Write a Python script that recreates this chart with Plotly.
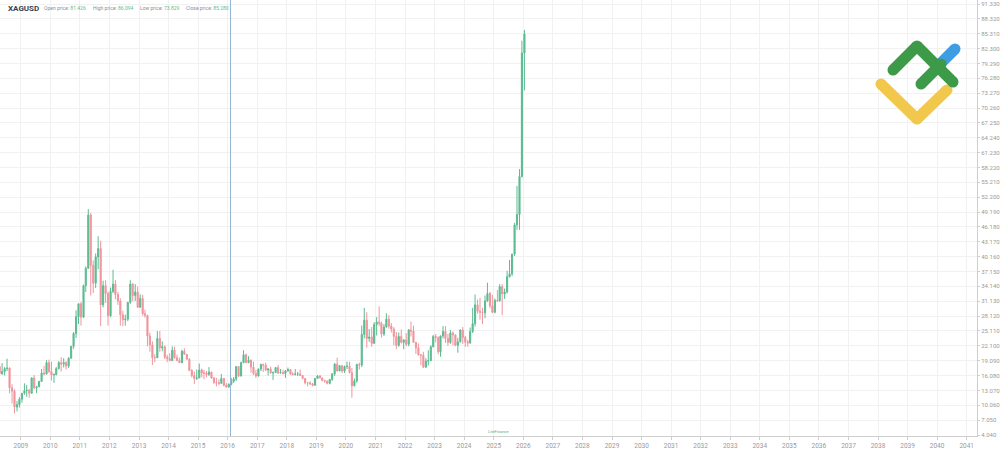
import plotly.graph_objects as go
import pandas as pd

# ---------------- data (monthly XAGUSD candles, Apr 2008 - Jan 2026) ----------------
start_month = "2008-04-01"

opens = [
    17.9, 16.5, 16.9, 17.5, 17.6, 13.6, 12.9, 9.7, 10.2,
    11.3, 12.5, 13.0, 13.1, 12.5, 15.6, 13.6, 13.8, 14.9, 16.6, 16.4, 18.7,
    16.9, 16.2, 16.3, 17.5, 18.7, 18.4, 18.7, 18.0, 19.6, 22.0, 24.6, 28.0,
    30.6, 27.9, 34.3, 37.8, 48.6, 38.4, 34.8, 40.1, 41.8, 30.4, 34.3, 32.7,
    28.2, 33.1, 34.6, 32.5, 31.2, 28.4, 27.4, 27.5, 30.9, 34.6, 32.3, 33.0,
    29.9, 31.7, 28.6, 28.3, 24.1, 22.3, 19.7, 19.7, 23.6, 21.7, 21.9, 19.8,
    19.5, 19.1, 21.2, 19.7, 19.1, 18.7, 21.0, 20.4, 19.4, 17.1, 16.1, 15.5,
    15.6, 17.2, 16.6, 16.6, 16.3, 16.8, 15.6, 14.7, 14.6, 14.5, 15.5, 14.1,
    13.8, 14.3, 14.9, 15.4, 17.9, 16.0, 18.7, 20.3, 18.7, 19.2, 17.8, 16.5,
    16.0, 17.4, 18.3, 18.2, 17.2, 17.4, 16.6, 16.7, 17.7, 16.6, 16.7, 16.5,
    17.0, 17.3, 16.4, 16.3, 16.4, 16.4, 16.1, 15.5, 14.6, 14.6, 14.4, 14.1,
    15.5, 16.0, 15.6, 15.1, 15.0, 14.5, 15.3, 16.4, 18.4, 17.0, 18.1, 17.0,
    17.9, 18.0, 16.7, 14.0, 15.0, 18.3, 18.2, 24.4, 27.3, 23.6, 23.9, 22.6,
    26.4, 26.9, 26.7, 24.5, 25.9, 27.5, 26.1, 25.5, 24.0, 22.2, 24.0, 22.8,
    23.3, 22.4, 25.3, 25.1, 22.8, 21.7, 20.3, 20.2, 17.8, 19.0, 19.1, 21.9,
    24.0, 23.8, 20.9, 24.1, 25.0, 23.6, 22.8, 24.7, 24.3, 22.2, 22.9, 25.3,
    23.8, 22.9, 22.7, 25.0, 26.6, 30.4, 29.1, 28.9, 28.8, 31.2, 32.7, 30.2,
    28.9, 31.3, 31.2, 34.1, 32.6, 33.0, 36.1, 36.7, 40.7, 46.6, 48.7, 56.4,
    81.426,
]
highs = [
    18.0, 18.6, 17.8, 19.5, 17.7, 14.3, 13.3, 10.9, 11.7,
    12.5, 14.5, 14.2, 13.4, 15.7, 16.2, 14.0, 15.0, 17.4, 18.0, 19.2, 19.3,
    18.9, 16.5, 17.8, 19.0, 19.8, 19.6, 19.0, 19.8, 22.1, 24.9, 29.3, 30.7,
    31.0, 34.5, 38.2, 49.8, 49.0, 39.4, 40.8, 44.3, 43.4, 35.3, 35.4, 33.1,
    33.9, 37.5, 35.4, 33.0, 31.7, 29.2, 28.4, 31.0, 35.4, 34.8, 34.6, 34.1,
    32.5, 32.4, 29.4, 28.3, 24.8, 23.0, 20.4, 25.1, 25.1, 23.0, 22.2, 20.3,
    20.6, 22.0, 21.9, 20.3, 19.7, 21.3, 21.6, 20.4, 19.6, 17.4, 16.9, 17.3,
    18.5, 17.5, 17.2, 17.0, 17.8, 16.8, 15.8, 15.6, 15.3, 16.4, 15.6, 14.6,
    14.5, 15.6, 15.8, 18.0, 17.9, 18.9, 21.2, 20.5, 20.0, 19.3, 18.9, 17.2,
    17.5, 18.5, 18.5, 18.7, 17.6, 17.9, 16.9, 17.8, 18.2, 17.4, 17.3, 17.2,
    17.7, 17.4, 16.8, 17.4, 16.8, 17.3, 16.1, 15.6, 14.8, 14.9, 14.6, 15.6,
    16.2, 16.2, 15.6, 15.2, 15.0, 15.4, 16.6, 18.6, 19.7, 18.1, 18.1, 18.1,
    18.9, 18.9, 17.6, 15.5, 18.5, 18.7, 26.2, 29.8, 28.9, 25.5, 25.9, 26.9,
    27.9, 30.1, 27.0, 26.5, 28.7, 28.3, 26.7, 25.9, 24.9, 24.8, 25.4, 23.4,
    24.7, 25.5, 27.0, 26.2, 22.9, 22.6, 20.4, 20.9, 19.6, 21.2, 22.2, 24.3,
    24.5, 24.0, 24.2, 26.1, 26.1, 24.5, 25.3, 25.0, 24.4, 23.7, 25.5, 25.9,
    24.1, 23.3, 25.8, 29.8, 32.5, 31.5, 31.8, 29.8, 32.3, 34.9, 33.0, 32.4,
    31.7, 33.4, 34.6, 34.6, 33.7, 37.3, 39.5, 40.7, 47.0, 54.5, 57.9, 83.9,
    86.094,
]
lows = [
    16.4, 16.2, 16.1, 17.0, 12.5, 10.4, 8.4, 8.8, 9.6,
    10.6, 12.2, 11.8, 11.6, 12.4, 13.3, 12.5, 13.8, 14.8, 16.1, 16.3, 16.6,
    15.1, 14.6, 16.1, 17.3, 16.9, 17.7, 17.3, 17.6, 19.5, 21.5, 23.7, 26.5,
    26.2, 27.8, 33.0, 37.7, 32.3, 32.8, 33.8, 37.6, 26.1, 29.9, 30.8, 26.2,
    27.9, 32.8, 31.5, 30.4, 26.2, 26.1, 26.2, 27.1, 30.6, 31.1, 31.2, 29.8,
    29.9, 28.2, 27.8, 22.0, 20.9, 18.2, 18.8, 19.6, 20.9, 21.0, 19.4, 18.8,
    19.0, 19.1, 19.5, 19.0, 18.7, 18.6, 20.3, 19.3, 17.0, 15.7, 14.4, 15.2,
    15.6, 15.7, 15.3, 15.7, 16.0, 15.4, 14.4, 13.9, 14.1, 14.4, 13.9, 13.6,
    13.6, 14.1, 14.6, 15.0, 15.8, 15.9, 18.6, 18.6, 18.6, 16.7, 16.2, 15.6,
    15.9, 17.0, 16.8, 17.0, 16.1, 16.5, 15.2, 16.6, 16.4, 16.5, 16.3, 15.6,
    16.9, 16.2, 16.1, 16.1, 16.0, 16.0, 15.3, 14.3, 13.9, 14.2, 13.9, 14.1,
    15.4, 15.5, 14.9, 14.6, 14.3, 14.3, 15.0, 16.0, 16.9, 17.0, 16.6, 16.6,
    17.4, 16.5, 11.6, 13.9, 14.6, 17.3, 17.8, 23.6, 21.7, 22.9, 21.9, 22.5,
    24.2, 26.1, 23.8, 24.1, 25.8, 25.6, 24.8, 22.2, 21.4, 21.9, 22.6, 21.4,
    22.0, 22.0, 24.0, 22.8, 20.5, 20.1, 18.2, 17.6, 17.6, 18.1, 19.0, 21.8,
    22.8, 20.4, 19.9, 23.6, 22.7, 22.1, 22.5, 22.2, 22.0, 20.7, 22.8, 22.5,
    21.9, 21.9, 22.5, 24.7, 26.0, 28.6, 27.4, 26.5, 27.7, 31.0, 29.7, 28.7,
    28.7, 31.0, 31.1, 28.3, 31.6, 32.7, 35.9, 36.2, 40.3, 45.6, 45.6, 56.2,
    73.829,
]
closes = [
    16.5, 16.9, 17.5, 17.6, 13.6, 12.9, 9.7, 10.2, 11.3,
    12.5, 13.0, 13.1, 12.5, 15.6, 13.6, 13.8, 14.9, 16.6, 16.4, 18.7, 16.9,
    16.2, 16.3, 17.5, 18.7, 18.4, 18.7, 18.0, 19.6, 22.0, 24.6, 28.0, 30.6,
    27.9, 34.3, 37.8, 48.6, 38.4, 34.8, 40.1, 41.8, 30.4, 34.3, 32.7, 28.2,
    33.1, 34.6, 32.5, 31.2, 28.4, 27.4, 27.5, 30.9, 34.6, 32.3, 33.0, 29.9,
    31.7, 28.6, 28.3, 24.1, 22.3, 19.7, 19.7, 23.6, 21.7, 21.9, 19.8, 19.5,
    19.1, 21.2, 19.7, 19.1, 18.7, 21.0, 20.4, 19.4, 17.1, 16.1, 15.5, 15.6,
    17.2, 16.6, 16.6, 16.3, 16.8, 15.6, 14.7, 14.6, 14.5, 15.5, 14.1, 13.8,
    14.3, 14.9, 15.4, 17.9, 16.0, 18.7, 20.3, 18.7, 19.2, 17.8, 16.5, 16.0,
    17.4, 18.3, 18.2, 17.2, 17.4, 16.6, 16.7, 17.7, 16.6, 16.7, 16.5, 17.0,
    17.3, 16.4, 16.3, 16.4, 16.4, 16.1, 15.5, 14.6, 14.6, 14.4, 14.1, 15.5,
    16.0, 15.6, 15.1, 15.0, 14.5, 15.3, 16.4, 18.4, 17.0, 18.1, 17.0, 17.9,
    18.0, 16.7, 14.0, 15.0, 18.3, 18.2, 24.4, 27.3, 23.6, 23.9, 22.6, 26.4,
    26.9, 26.7, 24.5, 25.9, 27.5, 26.1, 25.5, 24.0, 22.2, 24.0, 22.8, 23.3,
    22.4, 25.3, 25.1, 22.8, 21.7, 20.3, 20.2, 17.8, 19.0, 19.1, 21.9, 24.0,
    23.8, 20.9, 24.1, 25.0, 23.6, 22.8, 24.7, 24.3, 22.2, 22.9, 25.3, 23.8,
    22.9, 22.7, 25.0, 26.6, 30.4, 29.1, 28.9, 28.8, 31.2, 32.7, 30.2, 28.9,
    31.3, 31.2, 34.1, 32.6, 33.0, 36.1, 36.7, 40.7, 46.6, 48.7, 56.4, 81.4,
    85.28,
]

year_labels = [str(y) for y in range(2009, 2042)]
year_ticks = [f"{y}-01-01" for y in range(2009, 2042)]
price_labels = ["4.040", "7.050", "10.060", "13.070", "16.080", "19.090", "22.100",
                "25.110", "28.120", "31.130", "34.140", "37.150", "40.160", "43.170",
                "46.180", "49.190", "52.200", "55.210", "58.220", "61.230", "64.240",
                "67.250", "70.260", "73.270", "76.280", "79.290", "82.300", "85.310",
                "88.320", "91.330"]
price_ticks = [float(s) for s in price_labels]

symbol = "XAGUSD"
last_open, last_high, last_low, last_close = "81.426", "86.094", "73.829", "85.280"
cursor_date = "2016-02-05"

# ---------------- figure ----------------
dates = pd.date_range(start_month, periods=len(closes), freq="MS") + pd.Timedelta(days=14)

GREEN = "#5cbb91"
RED = "#f0959d"
VALUE_GREEN = "#5cbb91"

fig = go.Figure(go.Candlestick(
    x=dates, open=opens, high=highs, low=lows, close=closes,
    increasing=dict(line=dict(color=GREEN, width=1), fillcolor=GREEN),
    decreasing=dict(line=dict(color=RED, width=1), fillcolor=RED),
    whiskerwidth=0, showlegend=False, hoverinfo="skip",
))

PW, PH = 977.0, 436.0  # plot area in px


def px(x):
    return x / PW


def py(y):
    return (PH - y) / PH


shapes = []
# cursor line
shapes.append(dict(type="line", xref="x", yref="paper", x0=cursor_date, x1=cursor_date,
                   y0=0, y1=1, line=dict(color="#93b6d3", width=1), layer="above"))

# logo (rounded strokes)
SW = 11


def stroke(pts, color):
    for (x0, y0), (x1, y1) in zip(pts[:-1], pts[1:]):
        shapes.append(dict(type="line", xref="paper", yref="paper",
                           x0=px(x0), y0=py(y0), x1=px(x1), y1=py(y1),
                           line=dict(color=color, width=SW), layer="above"))
    r = SW / 2.0
    for (cx, cy) in pts:
        shapes.append(dict(type="circle", xref="paper", yref="paper",
                           x0=px(cx - r), x1=px(cx + r), y0=py(cy + r), y1=py(cy - r),
                           fillcolor=color, line=dict(width=0), layer="above"))


stroke([(881, 84), (917, 119), (947, 90)], "#f1c84b")
stroke([(940, 64), (955, 49)], "#3f9ee3")
stroke([(893, 70), (917, 46), (953, 82)], "#3c9a48")
stroke([(921, 84), (941, 64)], "#3c9a48")

annotations = []
annotations.append(dict(xref="paper", yref="paper", x=px(6), y=py(8),
                        text="<b>" + symbol + "</b>", showarrow=False,
                        xanchor="left", yanchor="middle",
                        font=dict(size=8, color="#3a3f4a", family="Roboto")))
pairs = [
    (42, "Open price:", last_open),
    (91, "High price:", last_high),
    (138, "Low price:", last_low),
    (184, "Close price:", last_close),
]
for x, lab, val in pairs:
    annotations.append(dict(
        xref="paper", yref="paper", x=px(x), y=py(8),
        text=f"{lab} <span style='color:{VALUE_GREEN}'>{val}</span>",
        showarrow=False, xanchor="left", yanchor="middle",
        font=dict(size=5, color="#8a8f99", family="Roboto")))
annotations.append(dict(xref="paper", yref="paper", x=px(498), y=py(431),
                        text="LiteFinance", showarrow=False, xanchor="center",
                        yanchor="middle", font=dict(size=4, color="#4fb487",
                                                    family="Roboto")))

fig.update_layout(
    width=1000, height=449,
    margin=dict(l=0, r=23, t=0, b=13, pad=0),
    paper_bgcolor="white", plot_bgcolor="white",
    shapes=shapes, annotations=annotations,
    xaxis=dict(
        type="date", range=["2008-04-19", "2041-05-08"], automargin=False,
        tickvals=year_ticks, ticktext=year_labels,
        showgrid=True, gridcolor="#f1f1f1", gridwidth=1,
        showline=True, linecolor="#cfcfcf", linewidth=1,
        ticks="outside", ticklen=3, tickcolor="#cfcfcf",
        tickfont=dict(size=6.5, color="#9a9a9a", family="Roboto"),
        rangeslider=dict(visible=False), zeroline=False, fixedrange=True,
    ),
    yaxis=dict(
        side="right", range=[3.84, 92.14], automargin=False,
        tickvals=price_ticks, ticktext=price_labels,
        showgrid=True, gridcolor="#f1f1f1", gridwidth=1,
        showline=True, linecolor="#cfcfcf", linewidth=1,
        ticks="outside", ticklen=2, tickcolor="#cfcfcf",
        tickfont=dict(size=6, color="#9a9a9a", family="Roboto"),
        zeroline=False, fixedrange=True,
    ),
)

fig.write_html("out.html", config={"displayModeBar": False},
               post_script="document.body.style.margin='0px';")
